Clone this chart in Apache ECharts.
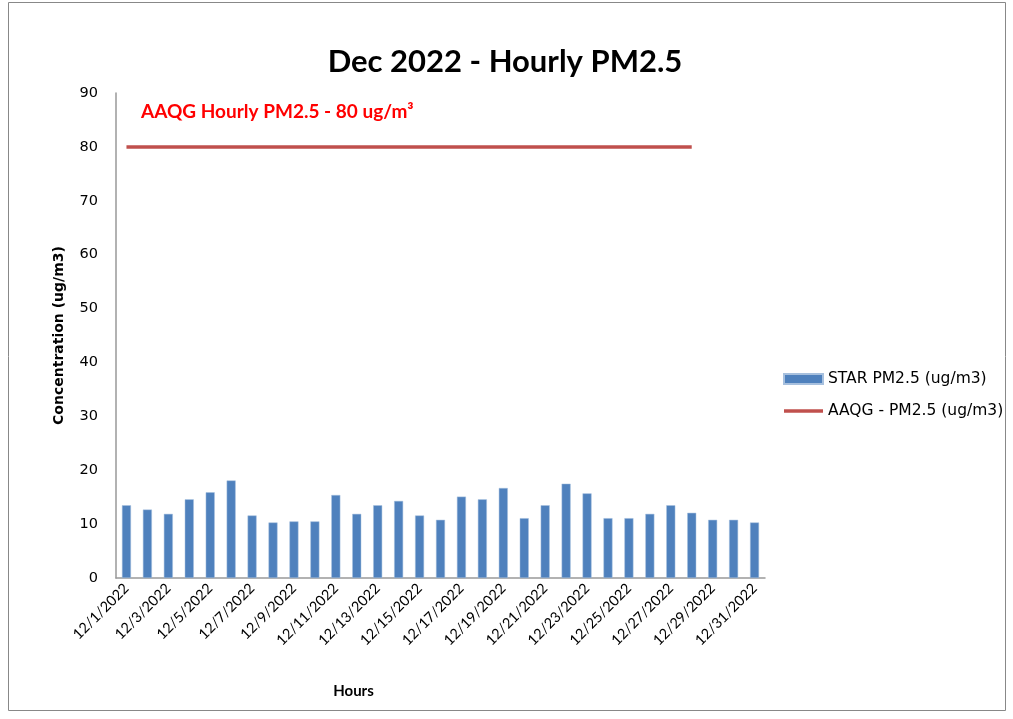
<!DOCTYPE html>
<html>
<head>
<meta charset="utf-8">
<script src="https://cdn.jsdelivr.net/npm/echarts@6/dist/echarts.min.js"></script>
<style>html,body{margin:0;padding:0;background:#fff;}#c{width:1013px;height:719px;}</style>
</head>
<body>
<div id="c"></div>
<script>
const categories = ['12/1/2022','12/2/2022','12/3/2022','12/4/2022','12/5/2022','12/6/2022','12/7/2022','12/8/2022','12/9/2022','12/10/2022','12/11/2022','12/12/2022','12/13/2022','12/14/2022','12/15/2022','12/16/2022','12/17/2022','12/18/2022','12/19/2022','12/20/2022','12/21/2022','12/22/2022','12/23/2022','12/24/2022','12/25/2022','12/26/2022','12/27/2022','12/28/2022','12/29/2022','12/30/2022','12/31/2022'];
const starPM25 = [13.5,12.7,11.9,14.6,15.9,18.1,11.6,10.3,10.5,10.5,15.4,11.9,13.5,14.3,11.6,10.8,15.1,14.6,16.7,11.1,13.5,17.5,15.7,11.1,11.1,11.9,13.5,12.1,10.8,10.8,10.3];
const aaqgPM25 = [80,80,80,80,80,80,80,80,80,80,80,80,80,80,80,80,80,80,80,80,80,80,80,80,80,80,80,80,null,null,null];
const yTicks = [0,10,20,30,40,50,60,70,80,90];

const chart = echarts.init(document.getElementById('c'));
chart.setOption({
  animation: false,
  backgroundColor: '#fff',
  title: {
    text: 'Dec 2022 - Hourly PM2.5',
    left: 500, top: 41, textAlign: 'center',
    textStyle: {fontFamily: 'Lato', fontWeight: 'bold', fontSize: 31, color: '#000'}
  },
  graphic: [
    {type: 'rect', shape: {x: 8.5, y: 2.5, width: 997, height: 708}, style: {fill: 'none', stroke: '#888', lineWidth: 1}, silent: true},
    {type: 'text', left: 141, top: 102, style: {text: 'AAQG Hourly PM2.5 - 80 ug/m³', fill: '#FF0000', font: 'bold 19px Lato'}}
  ],
  legend: {
    orient: 'vertical', left: 778, top: 366, itemGap: 16,
    itemWidth: 39, itemHeight: 10,
    textStyle: {fontFamily: 'DejaVu Sans', fontSize: 15.5, color: '#000'},
    data: [
      {name: 'STAR PM2.5 (ug/m3)', icon: 'rect'},
      {name: 'AAQG - PM2.5 (ug/m3)', icon: 'path://M0 0H39V3.5H0Z'}
    ]
  },
  grid: {left: 116, right: 248, top: 93, bottom: 141, containLabel: false},
  xAxis: {
    type: 'category', data: categories,
    name: 'Hours', nameLocation: 'middle', nameGap: 106,
    nameTextStyle: {fontFamily: 'Lato', fontWeight: 'bold', fontSize: 15, color: '#000', padding: [0, 174, 0, 0]},
    axisLine: {lineStyle: {color: '#999', width: 1.5}},
    axisTick: {show: false},
    axisLabel: {interval: 1, rotate: 45, fontFamily: 'Lato', fontSize: 14.5, color: '#000', margin: 8}
  },
  yAxis: {
    type: 'value', min: 0, max: 90, interval: 10,
    name: 'Concentration (ug/m3)', nameLocation: 'middle', nameGap: 50,
    nameTextStyle: {fontFamily: 'DejaVu Sans', fontWeight: 'bold', fontSize: 14, color: '#000'},
    axisLine: {show: true, lineStyle: {color: '#999', width: 1.5}},
    axisTick: {show: false},
    splitLine: {show: false},
    axisLabel: {fontFamily: 'DejaVu Sans', fontSize: 14.5, color: '#000', margin: 18,
      formatter: v => yTicks.includes(v) ? String(v) : ''}
  },
  series: [
    {name: 'STAR PM2.5 (ug/m3)', type: 'bar', data: starPM25, barWidth: 9,
     itemStyle: {color: '#4F81BD', borderColor: '#A7C0DE', borderWidth: 0.5}},
    {name: 'AAQG - PM2.5 (ug/m3)', type: 'line', data: aaqgPM25, symbol: 'none',
     lineStyle: {color: '#C0504D', width: 3.5}, itemStyle: {color: '#C0504D'}}
  ]
});
</script>
</body>
</html>
